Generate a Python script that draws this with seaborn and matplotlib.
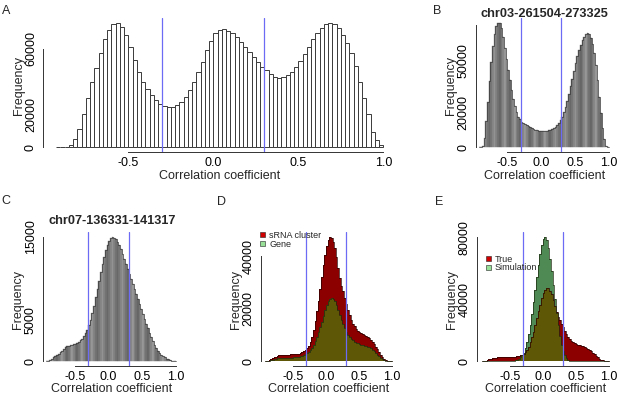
import numpy as np
import pandas as pd
import matplotlib
matplotlib.use("Agg")
import matplotlib.pyplot as plt
from matplotlib.patches import Patch
import seaborn as sns

# ---------------- data ----------------
BIN_START = -0.925
BIN_WIDTH = 0.025
N_BINS = 77
BIN_END = BIN_START + BIN_WIDTH * N_BINS
bin_centers = BIN_START + BIN_WIDTH * (np.arange(N_BINS) + 0.5)

# A: all pairs
all_counts = [0, 200, 400, 1600, 5300, 11400, 20600, 30200, 39600, 48500,
              57300, 65900, 71600, 75200, 75600, 73600, 68500, 61400, 53200, 46100,
              40000, 35300, 31800, 28750, 26300, 25100, 24300, 24700, 25700, 27700,
              30800, 34900, 40000, 46100, 52200, 59300, 65000, 69500, 71600, 72000,
              71200, 69500, 67100, 64400, 61400, 58300, 55300, 52200, 49100, 47100,
              44700, 43000, 42600, 43000, 44000, 46100, 49100, 52600, 56700, 61400,
              65900, 69900, 73000, 75000, 76000, 75200, 72600, 68500, 63400, 57300,
              49500, 40000, 29800, 20200, 9400, 4300, 1200]
# B: chr03-261504-273325
chr03_counts = [0, 200, 800, 5500, 15000, 26000, 38000, 49000, 58000, 65000,
                69500, 71500, 71500, 68500, 63500, 57000, 50500, 44500, 38500, 33000,
                28000, 23500, 20000, 17500, 16000, 14800, 14000, 13300, 12700, 12200,
                11700, 11200, 10700, 10200, 9700, 9400, 9300, 9300, 9300, 9400,
                9500, 9700, 10000, 10400, 11000, 11800, 12800, 14000, 15500, 17500,
                20000, 23000, 26500, 30500, 35000, 39500, 44000, 48500, 52500, 56000,
                59000, 61500, 63500, 65000, 65500, 65000, 63000, 59500, 54000, 47000,
                38500, 29000, 19500, 11000, 4500, 1000, 100]
# C: chr07-136331-141317
chr07_counts = [0, 50, 150, 300, 450, 600, 750, 900, 1050, 1250,
                1450, 1650, 1800, 1850, 1900, 1950, 2000, 2100, 2200, 2350,
                2500, 2700, 3000, 3350, 3800, 4300, 5000, 5800, 6700, 7700,
                8700, 9700, 10700, 11700, 12600, 13400, 14000, 14500, 14800, 14950,
                14900, 14700, 14400, 14000, 13500, 12900, 12300, 11700, 11100, 10500,
                9900, 9300, 8700, 8100, 7500, 6900, 6300, 5700, 5100, 4500,
                3950, 3400, 2900, 2400, 1950, 1550, 1200, 950, 750, 580,
                430, 300, 190, 110, 50, 15, 0]
# D/E: sRNA cluster (true) correlations
cluster_counts = [0, 100, 300, 600, 1000, 1400, 1700, 2000, 2200, 2300,
                  2400, 2400, 2400, 2450, 2450, 2500, 2500, 2550, 2600, 2700,
                  2850, 3050, 3300, 3650, 4100, 4800, 5800, 7300, 9300, 12000,
                  15300, 19000, 23000, 27500, 32000, 36500, 40500, 43800, 46000, 47200,
                  47000, 45500, 43000, 39500, 35500, 31500, 28500, 26500, 24000, 21800,
                  19600, 17400, 15700, 14300, 13200, 12300, 11600, 11000, 10600, 10300,
                  9900, 9600, 9200, 8700, 8100, 7400, 6500, 5500, 4400, 3300,
                  2300, 1500, 850, 400, 150, 50, 0]
# D: genes
gene_counts = [0, 50, 150, 300, 500, 700, 900, 1050, 1150, 1200,
               1250, 1300, 1300, 1300, 1300, 1350, 1350, 1400, 1450, 1550,
               1650, 1800, 2000, 2200, 2500, 2900, 3400, 4100, 5000, 6200,
               7600, 9200, 11000, 13000, 15000, 17200, 19300, 21200, 22800, 23800,
               24100, 23700, 22700, 21200, 19400, 17500, 15700, 14000, 12500, 11200,
               10100, 9200, 8500, 7900, 7400, 7000, 6700, 6500, 6300, 6100,
               5900, 5700, 5500, 5200, 4800, 4300, 3700, 3000, 2400, 1800,
               1200, 750, 400, 200, 80, 20, 0]
# E: simulation
sim_counts = [0, 0, 0, 0, 0, 0, 0, 0, 0, 0,
              0, 0, 0, 0, 0, 0, 0, 0, 100, 250,
              500, 900, 1500, 2400, 3600, 5500, 8500, 12500, 17500, 23500,
              30500, 38000, 46000, 54000, 62000, 69000, 75000, 79000, 80000, 78000,
              73000, 66000, 58000, 49000, 40000, 31000, 23000, 16000, 10500, 6500,
              3800, 2000, 900, 350, 100, 0, 0, 0, 0, 0,
              0, 0, 0, 0, 0, 0, 0, 0, 0, 0,
              0, 0, 0, 0, 0, 0, 0]

cutoffs = [-0.3, 0.3]
x_ticks = [-0.5, 0.0, 0.5, 1.0]
x_tick_labels = ["-0.5", "0.0", "0.5", "1.0"]
yticks_A = [0, 20000, 40000, 60000]
ylabels_A = ["0", "20000", "", "60000"]
yticks_B = [0, 10000, 20000, 30000, 40000, 50000, 60000, 70000]
ylabels_B = ["0", "", "20000", "", "", "50000", "", ""]
yticks_C = [0, 5000, 10000, 15000]
ylabels_C = ["0", "5000", "", "15000"]
yticks_D = [0, 10000, 20000, 30000, 40000]
ylabels_D = ["0", "", "20000", "", "40000"]
yticks_E = [0, 20000, 40000, 60000, 80000]
ylabels_E = ["0", "", "40000", "", "80000"]
title_B = "chr03-261504-273325"
title_C = "chr07-136331-141317"
legend_D = ["sRNA cluster", "Gene"]
legend_E = ["True", "Simulation"]
xlabel = "Correlation coefficient"
ylabel = "Frequency"
panel_letters = ["A", "B", "C", "D", "E"]

# ---------------- style ----------------
sns.set_theme(style="white")
plt.rcParams["font.family"] = ["Liberation Sans", "DejaVu Sans"]
plt.rcParams["axes.unicode_minus"] = False

W, H = 617, 394
fig = plt.figure(figsize=(W / 100, H / 100), dpi=100)
fig.patch.set_facecolor("white")

AX_COL = "#333333"
BLUE = (0.42, 0.42, 0.96)
RED = "#8c0000"
GREEN = "#4f8a55"
OLIVE = "#5d5706"
STRIPES = ["#666666", "#737373", "#848484", "#979797", "#848484", "#737373"]


def add_ax(l, t, r, b):
    return fig.add_axes([l / W, 1 - b / H, (r - l) / W, (b - t) / H])


def hist(ax, counts, **kw):
    df = pd.DataFrame({"r": bin_centers, "n": np.asarray(counts, dtype=float)})
    sns.histplot(data=df, x="r", weights="n", binwidth=BIN_WIDTH,
                 binrange=(BIN_START, BIN_END), ax=ax, stat="count", **kw)


def finish(ax, rect, xlim, ymax, yticks, ylabels):
    l, t, r, b = rect
    wpx, hpx = r - l, b - t
    ax.set_xlim(*xlim)
    ax.set_ylim(-0.04 * ymax, 1.04 * ymax)
    for c in cutoffs:
        ax.axvline(c, color=BLUE, lw=0.9, zorder=5)
    for s in ["top", "right"]:
        ax.spines[s].set_visible(False)
    for s in ["left", "bottom"]:
        ax.spines[s].set_color(AX_COL)
        ax.spines[s].set_linewidth(0.7)
    ax.spines["bottom"].set_bounds(x_ticks[0], x_ticks[-1])
    ax.spines["left"].set_bounds(yticks[0], yticks[-1])
    ax.set_xticks(x_ticks)
    ax.set_xticklabels(x_tick_labels)
    ax.set_yticks(yticks)
    ax.set_yticklabels(ylabels, rotation=90, va="center")
    ax.tick_params(axis="both", direction="out", length=3.1, width=0.7,
                   color=AX_COL, labelsize=9, labelcolor="black")
    ax.tick_params(axis="x", pad=0.3)
    ax.tick_params(axis="y", pad=1.5)
    ax.set_xlabel(xlabel, fontsize=9)
    ax.set_ylabel(ylabel, fontsize=9)
    ax.xaxis.set_label_coords(0.5, -17.3 / hpx)
    ax.yaxis.set_label_coords(-18.8 / wpx, 0.5)
    ax.set_facecolor("none")


def stripes(ax, counts):
    hist(ax, counts, color="gray", alpha=1, linewidth=0.3)
    for i, p in enumerate(ax.patches):
        col = STRIPES[i % len(STRIPES)]
        p.set_facecolor(col)
        p.set_edgecolor(col)
    hist(ax, counts, element="step", fill=False, color="#3a3a3a", linewidth=0.5)


# ---------------- panel A ----------------
rectA = (43.3, 17.8, 396.4, 152.3)
axA = add_ax(*rectA)
hist(axA, all_counts, color="white", edgecolor="#3a3a3a", linewidth=0.7, alpha=1)
finish(axA, rectA, (-1.0, 1.077), max(all_counts), yticks_A, ylabels_A)

# ---------------- panel B ----------------
rectB = (476.0, 17.8, 613.7, 152.3)
axB = add_ax(*rectB)
stripes(axB, chr03_counts)
finish(axB, rectB, (-0.963, 1.077), max(chr03_counts), yticks_B, ylabels_B)
axB.set_title(title_B, fontsize=9.2, fontweight="bold", pad=0.5)

# ---------------- panel C ----------------
rectC = (43.3, 232.2, 180.8, 366.0)
axC = add_ax(*rectC)
stripes(axC, chr07_counts)
finish(axC, rectC, (-0.966, 1.077), max(chr07_counts), yticks_C, ylabels_C)
axC.set_title(title_C, fontsize=9.2, fontweight="bold", pad=5.8)


def overlay(ax, under, over):
    overlap = np.minimum(under, over)
    hist(ax, under, element="step", fill=True, color=RED, alpha=1, linewidth=0)
    hist(ax, over, element="step", fill=True, color=GREEN, alpha=1, linewidth=0)
    hist(ax, overlap, element="step", fill=True, color=OLIVE, alpha=1, linewidth=0)
    hist(ax, under, element="step", fill=False, color="#2a0000", linewidth=0.5)
    hist(ax, over, element="step", fill=False, color="#1e2a10", linewidth=0.5)


def legend(ax, labels, x_px, y_px):
    handles = [Patch(facecolor="#d00000", edgecolor="#222222", linewidth=0.4),
               Patch(facecolor="#98e098", edgecolor="#222222", linewidth=0.4)]
    ax.legend(handles=handles, labels=labels, loc="upper left",
              bbox_to_anchor=(x_px / W, 1 - y_px / H), bbox_transform=fig.transFigure,
              frameon=False, fontsize=6.5, handlelength=0.6, handleheight=0.5,
              handletextpad=0.4, labelspacing=0.0, borderpad=0, borderaxespad=0)


# ---------------- panel D ----------------
rectD = (261.0, 232.2, 396.7, 366.0)
axD = add_ax(*rectD)
overlay(axD, cluster_counts, gene_counts)
finish(axD, rectD, (-0.991, 1.078), max(cluster_counts), yticks_D, ylabels_D)
legend(axD, legend_D, 260.0, 231.0)

# ---------------- panel E ----------------
rectE = (476.7, 232.2, 613.8, 366.0)
axE = add_ax(*rectE)
overlay(axE, cluster_counts, sim_counts)
finish(axE, rectE, (-1.0, 1.077), max(sim_counts), yticks_E, ylabels_E)
legend(axE, legend_E, 485.7, 254.5)

# ---------------- panel letters ----------------
letter_pos = [(1.5, 14), (433, 14), (1.5, 204), (216.7, 205), (435, 205)]
for s, (x, y) in zip(panel_letters, letter_pos):
    fig.text(x / W, 1 - y / H, s, fontsize=9, ha="left", va="baseline")

fig.savefig("out.png", dpi=100)
